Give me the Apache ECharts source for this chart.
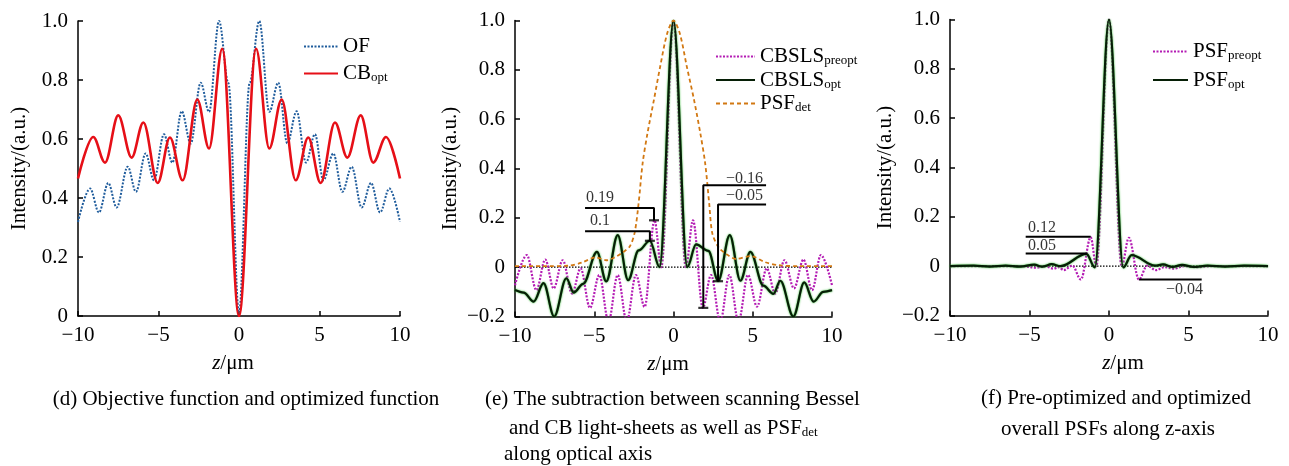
<!DOCTYPE html>
<html><head><meta charset="utf-8">
<script src="https://cdn.jsdelivr.net/npm/echarts@6/dist/echarts.min.js"></script>
<style>html,body{margin:0;padding:0;background:#fff}#c{width:1289px;height:466px}</style>
</head><body><div id="c"></div><script>
// ---------- data ----------
const xTicks = [-10, -5, 0, 5, 10];
// (d) objective function & optimized function
const OF = [[-10,0.319],[-9.25,0.432],[-8.7,0.351],[-8.12,0.451],[-7.6,0.368],[-6.91,0.506],[-6.4,0.421],[-5.8,0.551],[-5.28,0.46],[-4.66,0.616],[-4.14,0.52],[-3.56,0.694],[-3.0,0.585],[-2.38,0.791],[-1.86,0.692],[-1.24,1.0],[-0.66,0.79],[0,0.01],[0.66,0.79],[1.26,1.0],[1.88,0.692],[2.44,0.791],[3.0,0.585],[3.58,0.694],[4.16,0.52],[4.72,0.616],[5.24,0.46],[5.86,0.551],[6.42,0.421],[7.0,0.506],[7.62,0.368],[8.2,0.451],[8.76,0.351],[9.34,0.432],[10,0.319]];
const CB_opt = [[-10,0.466],[-9.05,0.607],[-8.32,0.52],[-7.5,0.68],[-6.67,0.537],[-5.94,0.656],[-5.05,0.451],[-4.29,0.605],[-3.5,0.46],[-2.59,0.734],[-1.86,0.568],[-1.04,0.906],[0,0],[1.06,0.906],[1.88,0.568],[2.65,0.734],[3.52,0.46],[4.3,0.605],[5.07,0.451],[5.96,0.656],[6.73,0.537],[7.56,0.68],[8.34,0.52],[9.13,0.607],[10,0.466]];
// (e) subtraction curves and detection PSF
const CBSLS_preopt = [[-10,-0.073],[-9.26,0.049],[-8.65,-0.093],[-8.09,0.031],[-7.56,-0.086],[-6.99,0.028],[-6.4,-0.107],[-5.86,-0.005],[-5.27,-0.165],[-4.68,-0.032],[-4.1,-0.22],[-3.52,-0.032],[-2.95,-0.22],[-2.37,-0.032],[-1.82,-0.161],[-1.2,0.19],[-0.77,0],[0,1.0],[0.78,0],[1.23,0.19],[1.85,-0.165],[2.37,-0.032],[2.95,-0.22],[3.52,-0.032],[4.1,-0.22],[4.7,-0.032],[5.27,-0.16],[5.88,-0.005],[6.42,-0.107],[7.0,0.028],[7.6,-0.086],[8.2,0.031],[8.74,-0.093],[9.3,0.049],[10,-0.073]];
const CBSLS_opt = [[-10,-0.093],[-9.45,-0.103],[-8.82,-0.14],[-8.2,-0.065],[-7.53,-0.2],[-6.76,-0.045],[-6.3,-0.103],[-5.7,-0.068],[-4.83,0.062],[-4.24,-0.058],[-3.52,0.13],[-2.86,-0.053],[-2.2,0.068],[-1.49,0.107],[-0.88,0],[0,1.0],[0.87,0],[1.42,0.092],[2.2,0.066],[2.82,-0.056],[3.55,0.13],[4.22,-0.055],[4.85,0.062],[5.67,-0.075],[6.3,-0.108],[6.74,-0.055],[7.56,-0.2],[8.25,-0.062],[8.84,-0.14],[9.45,-0.1],[10,-0.093]];
const PSF_det = [[-10,0.004],[-8,0.004],[-6.6,0.006],[-5.8,0.018],[-4.9,0.04],[-4.25,0.028],[-3.7,0.04],[-3.2,0.06],[-2.75,0.085],[-2.45,0.14],[-2.2,0.26],[-1.95,0.42],[-1.65,0.54],[-1.23,0.68],[-0.85,0.81],[-0.4,0.947],[0,1.0],[0.4,0.947],[0.85,0.81],[1.29,0.68],[1.7,0.54],[2.0,0.42],[2.25,0.26],[2.45,0.137],[2.85,0.08],[3.3,0.055],[3.95,0.033],[4.85,0.045],[5.8,0.02],[6.64,0.008],[8,0.004],[10,0.004]];
// (f) overall PSFs
const PSF_preopt = [[-10,0],[-5.5,0],[-4.6,-0.006],[-4.0,0],[-3.5,-0.01],[-3.15,-0.004],[-2.85,-0.016],[-2.3,0.002],[-1.77,-0.054],[-1.15,0.117],[-0.8,0],[0,1.0],[0.8,0],[1.25,0.115],[1.88,-0.054],[2.4,0.002],[2.95,-0.016],[3.5,-0.004],[4.1,-0.01],[4.7,0],[5.5,-0.004],[6.5,0],[10,0]];
const PSF_opt = [[-10,0],[-8.5,0.002],[-7.5,-0.002],[-6.5,0.002],[-5.6,-0.002],[-4.7,0.006],[-4.2,-0.002],[-3.6,0.008],[-3.05,0],[-1.42,0.05],[-0.89,-0.005],[0,1.0],[0.9,-0.005],[1.42,0.045],[2.9,0.002],[3.4,0.007],[4.0,-0.003],[4.6,0.005],[5.3,-0.003],[6.2,0.002],[7.3,-0.002],[8.5,0.002],[10,0]];
// annotations: [xStart, xTurn, yLine, yEnd]
const annoE = [[-5.58,-1.23,0.24,0.19],[-5.58,-1.49,0.146,0.107],[5.84,1.88,0.332,-0.165],[5.84,2.81,0.254,-0.057]];
const annoE_text = [['0.19',-5.52,0.28],['0.1',-5.27,0.188],['\u22120.16',5.65,0.36],['\u22120.05',5.65,0.288]];
// [xStart, xEnd, yLine]
const annoF = [[-5.24,-1.15,0.119],[-5.24,-1.40,0.051],[1.89,5.83,-0.054]];
const annoF_text = [['0.12',-5.09,0.154],['0.05',-5.09,0.081],['\u22120.04',5.91,-0.097]];

// ---------- styling ----------
const FONT = '"Liberation Serif","Times New Roman",serif';
const BLUE = '#1f5c9c', RED = '#e60f17', MAG = '#b41cb4', DKG = '#061f06', ORG = '#d27812';
const RICH = {
  m: {fontFamily: FONT, fontSize: 21, lineHeight: 22, color: '#000'},
  s: {fontFamily: FONT, fontSize: 13, lineHeight: 11, verticalAlign: 'bottom', color: '#000'}
};
const fmtName = n => { const p = n.split('_'); return p[1] ? `{m|${p[0]}}{s|${p[1]}}` : `{m|${p[0]}}`; };
const minus = s => String(s).replace('-', '\u2212');
const fmtX = v => minus(v);
const fmtY = v => Math.abs(v) < 1e-9 ? '0' : minus(v.toFixed(1));

function xAx(gi, pad) {
  return {type: 'value', gridIndex: gi, min: -10, max: 10, interval: 5,
    axisLine: {onZero: false, lineStyle: {color: '#000', width: 1.5}},
    axisTick: {inside: true, length: 5, lineStyle: {color: '#000', width: 1.5}},
    splitLine: {show: false},
    axisLabel: {color: '#000', fontFamily: FONT, fontSize: 21, margin: 9, formatter: fmtX},
    name: '{i|z}/\u03bcm', nameLocation: 'middle', nameGap: 37, nameMoveOverlap: false,
    nameTextStyle: {color: '#000', fontFamily: FONT, fontSize: 21, padding: pad,
      rich: {i: {fontStyle: 'italic', fontFamily: FONT, fontSize: 21, color: '#000'}}}};
}
function yAx(gi, min, gap) {
  return {type: 'value', gridIndex: gi, min: min, max: 1, interval: 0.2,
    axisLine: {onZero: false, lineStyle: {color: '#000', width: 1.5}},
    axisTick: {inside: true, length: 5, lineStyle: {color: '#000', width: 1.5}},
    splitLine: {show: false},
    axisLabel: {color: '#000', fontFamily: FONT, fontSize: 21, margin: 10, formatter: fmtY},
    name: 'Intensity/(a.u.)', nameLocation: 'middle', nameGap: gap, nameMoveOverlap: false,
    nameTextStyle: {color: '#000', fontFamily: FONT, fontSize: 21}};
}
function curve(name, gi, data, color, width, type, extra) {
  return Object.assign({name, type: 'line', xAxisIndex: gi, yAxisIndex: gi, data,
    symbol: 'none', smooth: 0.35, smoothMonotone: 'x', clip: true, silent: true,
    lineStyle: {color, width, type}, itemStyle: {color}}, extra || {});
}
const greenStyle = {color: DKG, width: 2.2, type: 'solid', shadowColor: '#1fb51f', shadowBlur: 2};

const series = [
  curve('OF', 0, OF, BLUE, 2, [2, 1.5]),
  curve('CB_opt', 0, CB_opt, RED, 2.6, 'solid'),
  curve('zeroE', 1, [[-10, 0], [10, 0]], '#000', 1.3, [1.5, 1.5], {smooth: false}),
  curve('CBSLS_preopt', 1, CBSLS_preopt, MAG, 2.2, [2, 1.5]),
  curve('CBSLS_opt', 1, CBSLS_opt, DKG, 2.2, 'solid', {lineStyle: greenStyle}),
  curve('PSF_det', 1, PSF_det, ORG, 1.8, [4, 3], {smooth: 0.3, smoothMonotone: null}),
  curve('zeroF', 2, [[-10, 0], [10, 0]], '#000', 1.3, [1.5, 1.5], {smooth: false}),
  curve('PSF_preopt', 2, PSF_preopt, MAG, 2.2, [2, 1.5]),
  curve('PSF_opt', 2, PSF_opt, DKG, 2.2, 'solid', {lineStyle: greenStyle})
];
annoE.forEach((a, i) => series.push({name: 'annoE' + i, type: 'line', xAxisIndex: 1, yAxisIndex: 1, silent: true,
  symbol: 'none', data: [[a[0], a[2]], [a[1], a[2]], [a[1], a[3]]], lineStyle: {color: '#000', width: 2}, z: 5}));
series.push({name: 'capsE', type: 'scatter', xAxisIndex: 1, yAxisIndex: 1, silent: true, symbol: 'rect',
  symbolSize: [10, 2.2], itemStyle: {color: '#000'}, data: annoE.map(a => [a[1], a[3]]), z: 5});
annoF.forEach((a, i) => series.push({name: 'annoF' + i, type: 'line', xAxisIndex: 2, yAxisIndex: 2, silent: true,
  symbol: 'none', data: [[a[0], a[2]], [a[1], a[2]]], lineStyle: {color: '#000', width: 2}, z: 5}));
function textSeries(name, gi, arr) {
  return {name, type: 'scatter', xAxisIndex: gi, yAxisIndex: gi, silent: true, symbolSize: 0.1, z: 6,
    data: arr.map(t => ({value: [t[1], t[2]], name: t[0],
      label: {position: t[1] < 0 ? 'right' : 'left'}})),
    label: {show: true, distance: 0, formatter: p => p.name, color: '#000', fontFamily: FONT, fontSize: 16}};
}
series.push(textSeries('txtE', 1, annoE_text));
series.push(textSeries('txtF', 2, annoF_text));

function legend(names, left, top, w, gap) {
  return {data: names, left, top, orient: 'vertical', itemWidth: w, itemHeight: 14, itemGap: gap,
    formatter: fmtName, selectedMode: false, itemStyle: {opacity: 0, borderWidth: 0},
    textStyle: {color: '#000', fontFamily: FONT, fontSize: 21, rich: RICH}};
}
function cap(x, y, text, align) {
  return {type: 'text', x, y, silent: true, style: {text, fill: '#000', font: '21px ' + FONT,
    fontFamily: FONT, fontSize: 21, align, textAlign: align, verticalAlign: 'middle', textVerticalAlign: 'middle',
    rich: {m: {fontFamily: FONT, fontSize: 21, lineHeight: 22, fill: '#000', color: '#000'},
           s: {fontFamily: FONT, fontSize: 13, lineHeight: 11, verticalAlign: 'bottom', fill: '#000', color: '#000'}}}};
}

const chart = echarts.init(document.getElementById('c'), null, {renderer: 'canvas'});
chart.setOption({
  backgroundColor: '#fff',
  animation: false,
  grid: [
    {left: 78, top: 21, width: 322, height: 295, outerBoundsMode: 'none'},
    {left: 515, top: 20.5, width: 317, height: 296, outerBoundsMode: 'none'},
    {left: 950, top: 19.5, width: 318, height: 296, outerBoundsMode: 'none'}
  ],
  xAxis: [xAx(0, [0, 12, 0, 0]), xAx(1, [0, 11, 0, 0]), xAx(2, [0, 0, 0, 28])],
  yAxis: [yAx(0, 0, 48), yAx(1, -0.2, 54), yAx(2, -0.2, 54)],
  legend: [
    legend(['OF', 'CB_opt'], 298, 31, 34, 6),
    legend(['CBSLS_preopt', 'CBSLS_opt', 'PSF_det'], 710, 41, 39, 2),
    legend(['PSF_preopt', 'PSF_opt'], 1147, 36, 35, 7)
  ],
  series,
  graphic: [
    cap(246, 399, '(d) Objective function and optimized function', 'center'),
    cap(485, 399, '(e) The subtraction between scanning Bessel', 'left'),
    cap(509, 428, '{m|and CB light-sheets as well as PSF}{s|det}', 'left'),
    cap(504, 454, 'along optical axis', 'left'),
    cap(1116, 398, '(f) Pre-optimized and optimized', 'center'),
    cap(1108, 429, 'overall PSFs along z-axis', 'center')
  ]
});
</script></body></html>
